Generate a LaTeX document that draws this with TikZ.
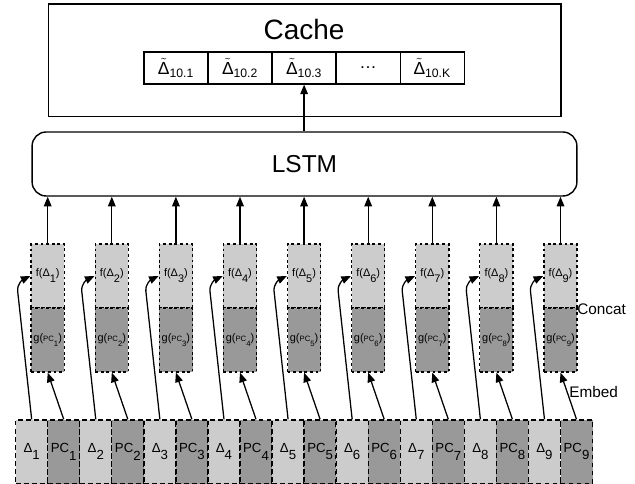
\documentclass[tikz,border=0pt]{standalone}
\usepackage{fontspec}
\setmainfont{Liberation Sans}
\usetikzlibrary{arrows.meta,positioning}
\definecolor{lite}{HTML}{CCCCCC}
\definecolor{dark}{HTML}{999999}
\newcommand{\lsub}[1]{\raisebox{-0.55em}{#1}}
\newcommand{\tD}{$\tilde{\mbox{Δ}}$}

\begin{document}
\begin{tikzpicture}[
    cachebox/.style={rectangle,draw,line width=1pt,minimum width=12.82cm,minimum height=2.82cm},
    slot/.style={rectangle,draw,line width=0.9pt,minimum width=1.6cm,minimum height=0.8cm,inner sep=0pt,font=\fontsize{12.4}{14}\selectfont},
    lstm/.style={rectangle,draw,rounded corners=10pt,line width=1pt,minimum width=13.62cm,minimum height=1.6cm,font=\fontsize{17.4}{20}\selectfont},
    emb/.style={rectangle,draw,fill=#1,dash pattern=on 2pt off 2pt,line width=0.9pt,minimum width=0.83cm,minimum height=1.6cm,inner sep=0pt,font=\fontsize{7.8}{9}\selectfont},
    inp/.style={rectangle,draw,fill=#1,dash pattern=on 3.5pt off 2.2pt,line width=0.9pt,minimum width=0.8cm,minimum height=1.59cm,inner sep=0pt,font=\fontsize{9.4}{11}\selectfont},
    arr/.style={-{Triangle[length=2.4mm,width=1.9mm]},line width=0.9pt},
    lbl/.style={font=\fontsize{10.9}{12}\selectfont,anchor=west,inner sep=0pt},
]
\useasboundingbox (0,0) rectangle (15.875,12.1);

% Cache
\node[cachebox] (cache) at (7.616,10.591) {};
\node[font=\fontsize{19.9}{22}\selectfont] (title) at (7.6,11.36) {Cache};
\foreach \k/\s in {1/\tD\textsubscript{10.1},2/\tD\textsubscript{10.2},3/\tD\textsubscript{10.3},4/…,5/\tD\textsubscript{10.K}}
    \node[slot] (c\k) at ({4.4+1.6015*(\k-1)},10.4) {\s};

% LSTM
\node[lstm] (lstm) at (7.6125,8.0) {LSTM};
\draw[arr] (c3 |- lstm.north) -- (c3.south);

% Inputs, embeddings
\foreach \i in {1,...,9} {
    \pgfmathsetmacro\cx{1.1925+1.6025*(\i-1)}
    \node[emb=lite] (f\i) at (\cx,5.2) {f(Δ\lsub{\i})};
    \node[emb=dark] (g\i) at (\cx,3.6) {g({\fontsize{5.5}{6}\selectfont PC\lsub{\i}})};
    \node[inp=lite] (d\i) at (\cx-0.4006,0.806) {Δ\lsub{\i}};
    \node[inp=dark] (p\i) at (\cx+0.4006,0.806) {PC\lsub{\i}};
    \draw[arr] (f\i.north) -- (f\i.north |- lstm.south);
    \draw[arr] (p\i.north) -- (g\i.south);
    \draw[arr] (d\i.north) -- ++(-0.35,3.2) to[out=96,in=205] (f\i.west);
}

\node[lbl] (concat) at (14.425,4.375) {Concat};
\node[lbl] (embed) at (14.225,2.3) {Embed};
\end{tikzpicture}
\end{document}
